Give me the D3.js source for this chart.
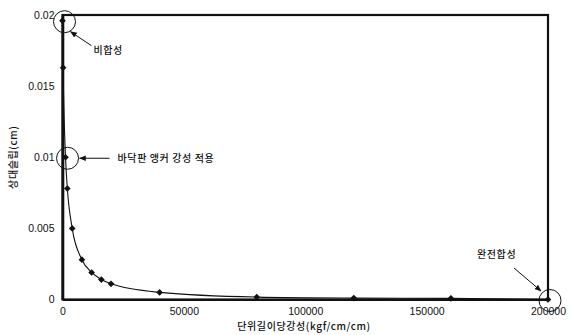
<!DOCTYPE html>
<html>
<head>
<meta charset="utf-8">
<script src="https://cdn.jsdelivr.net/npm/d3@7"></script>
<style>
  html, body { margin: 0; padding: 0; background: #fff; }
  svg { display: block; }
  .num { font-family: "Liberation Sans", Arial, sans-serif; font-size: 10.5px; fill: #111; }
  .kr { font-family: "Noto Sans CJK KR", sans-serif; font-size: 10px; fill: #111; font-weight: 500; letter-spacing: 0.6px; }
</style>
</head>
<body>
<svg id="chart" width="572" height="335"></svg>
<script>
// Stiffness per unit length (kgf/cm/cm) vs relative slip (cm)
const stiffness = [0, 250, 1250, 2000, 4000, 8000, 12000, 16000, 20000, 40000, 80000, 120000, 160000, 200000];
const slip = [0.0196, 0.0163, 0.0100, 0.0078, 0.0050, 0.0028, 0.0019, 0.0014, 0.0011, 0.0005, 0.00017, 0.0001, 0.00008, 0];

const xTicks = [0, 50000, 100000, 150000, 200000];
const xTickLabels = ["0", "50000", "100000", "150000", "200000"];
const yTicks = [0, 0.005, 0.01, 0.015, 0.02];
const yTickLabels = ["0", "0.005", "0.01", "0.015", "0.02"];

const xTitle = "단위길이당강성(kgf/cm/cm)";
const yTitle = "상대슬립(cm)";

// Callouts: index of the point circled, label
const callouts = [
  { idx: 0, label: "비합성" },
  { idx: 2, label: "바닥판 앵커 강성 적용" },
  { idx: 13, label: "완전합성" }
];

const svg = d3.select("#chart");
const plotL = 62.5, plotR = 548, plotT = 15, plotB = 299.5;

const x = d3.scaleLinear().domain([0, 200000]).range([plotL, plotR]);
const y = d3.scaleLinear().domain([0, 0.02]).range([plotB, plotT]);

// arrow marker
const defs = svg.append("defs");
defs.append("marker")
  .attr("id", "arr").attr("viewBox", "0 0 10 10")
  .attr("refX", 9).attr("refY", 5)
  .attr("markerWidth", 7).attr("markerHeight", 7)
  .attr("markerUnits", "userSpaceOnUse")
  .attr("orient", "auto")
  .append("path").attr("d", "M0,1 L10,5 L0,9 Z").attr("fill", "#111");

// frame
svg.append("rect")
  .attr("x", plotL).attr("y", plotT)
  .attr("width", plotR - plotL).attr("height", plotB - plotT)
  .attr("fill", "none").attr("stroke", "#111").attr("stroke-width", 2.2);

// axes
const xAxis = d3.axisBottom(x).tickValues(xTicks)
  .tickFormat((d, i) => xTickLabels[i]).tickSize(0).tickPadding(8);
const gx = svg.append("g").attr("transform", `translate(0,${plotB})`).call(xAxis);
gx.select(".domain").attr("stroke", "#111").attr("stroke-width", 2.2);
gx.selectAll("text").attr("class", "num").attr("font-family", null).attr("font-size", null);

const yAxis = d3.axisLeft(y).tickValues(yTicks)
  .tickFormat((d, i) => yTickLabels[i]).tickSize(0).tickPadding(8);
const gy = svg.append("g").attr("transform", `translate(${plotL},0)`).call(yAxis);
gy.select(".domain").attr("stroke", "#111").attr("stroke-width", 2.6);
gy.selectAll("text").attr("class", "num").attr("font-family", null).attr("font-size", null);

// axis titles
svg.append("text").attr("class", "kr")
  .attr("x", 304).attr("y", 330)
  .attr("text-anchor", "middle").text(xTitle);
svg.append("text").attr("class", "kr")
  .attr("transform", `translate(17,${(plotT + plotB) / 2}) rotate(-90)`)
  .attr("text-anchor", "middle").text(yTitle);

// curve
const pts = stiffness.map((s, i) => [s, slip[i]]);
svg.append("path")
  .datum(pts)
  .attr("fill", "none").attr("stroke", "#111").attr("stroke-width", 1.1)
  .attr("d", d3.line().x(d => x(d[0])).y(d => y(d[1])).curve(d3.curveMonotoneX));

// diamond markers
svg.selectAll("path.mk").data(pts).join("path")
  .attr("class", "mk")
  .attr("transform", d => `translate(${x(d[0])},${y(d[1])}) rotate(45)`)
  .attr("d", d3.symbol().type(d3.symbolSquare).size(22))
  .attr("fill", "#111");

// callout circles
const R = 11;
callouts.forEach(c => {
  const cx = x(stiffness[c.idx]) + 2, cy = y(slip[c.idx]) + 1;
  svg.append("circle").attr("cx", cx).attr("cy", cy).attr("r", R)
    .attr("fill", "none").attr("stroke", "#111").attr("stroke-width", 1);
});

// leader for non-composite
{
  const px = x(stiffness[0]) + 2, py = y(slip[0]) + 1;
  svg.append("line")
    .attr("x1", px + 27).attr("y1", py + 24)
    .attr("x2", px + 6).attr("y2", py + 10)
    .attr("stroke", "#111").attr("stroke-width", 1).attr("marker-end", "url(#arr)");
  svg.append("text").attr("class", "kr").attr("x", px + 29).attr("y", py + 32).text(callouts[0].label);
}
// leader for floor anchor stiffness
{
  const px = x(stiffness[2]) + 2, py = y(slip[2]) + 1;
  svg.append("line")
    .attr("x1", px + 42).attr("y1", py)
    .attr("x2", px + R + 1).attr("y2", py)
    .attr("stroke", "#111").attr("stroke-width", 1).attr("marker-end", "url(#arr)");
  svg.append("text").attr("class", "kr").attr("x", px + 50).attr("y", py + 3.5).text(callouts[1].label);
}
// leader for full composite
{
  const px = x(stiffness[13]) + 1, py = y(slip[13]) + 0.5;
  svg.append("line")
    .attr("x1", px - 35).attr("y1", py - 32)
    .attr("x2", px - 8).attr("y2", py - 9)
    .attr("stroke", "#111").attr("stroke-width", 1).attr("marker-end", "url(#arr)");
  svg.append("text").attr("class", "kr").attr("x", px - 72).attr("y", py - 42).text(callouts[2].label);
}
</script>
</body>
</html>
